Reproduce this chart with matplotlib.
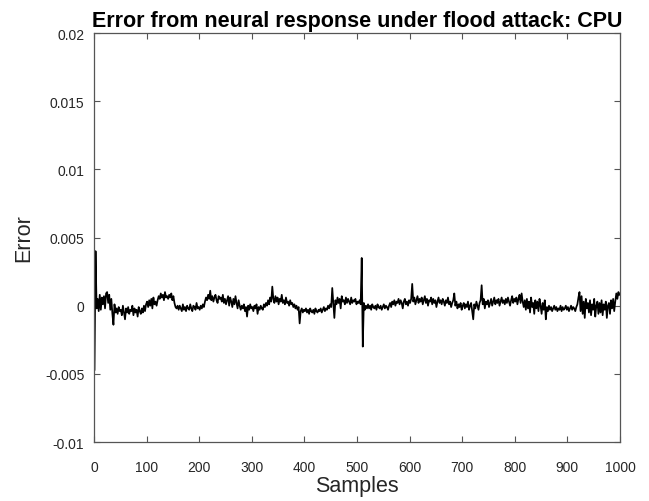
import numpy as np
import matplotlib
matplotlib.use("Agg")
import matplotlib.pyplot as plt

# error values, in units of 1e-4, every second sample (1, 3, ..., 999)
err_e4 = [
    -47, 40, -2, 5, -4, 8, -3, 6, 1, 7,
    -2, 9, 10, 2, 8, -3, 5, -6, -14, 1,
    -5, -2, -6, -1, -4, -3, -7, 0, -5, -10,
    -2, -5, -1, -6, -3, -4, 0, -7, -2, -5,
    -3, -8, -1, -4, -6, -2, -5, 0, -4, 1,
    3, -1, 4, 0, 5, -2, 6, 1, 3, 0,
    4, 7, 5, 9, 6, 8, 4, 10, 6, 7,
    5, 8, 6, 9, 4, 7, 2, -1, -2, 0,
    -3, 0, -2, -4, 1, -3, -1, -4, 0, -2,
    -3, 1, -2, -4, 0, -1, -3, 2, -2, -1,
    -3, 0, -2, 1, -1, 3, 6, 4, 8, 5,
    11, 4, 7, 3, 6, 8, 4, 2, 7, 5,
    6, 3, 8, 2, 5, 1, 4, 7, 0, 6,
    3, -1, 5, 1, 7, 2, -2, 4, 0, -3,
    0, -2, 1, -4, -1, -8, 0, -3, 1, -2,
    -1, -4, 0, -2, 1, -6, -1, -3, 0, -2,
    -3, 1, -1, 2, 0, 4, 1, 6, 3, 14,
    5, 2, 7, 3, 6, 1, 5, 3, 8, 2,
    4, 1, 6, 2, 3, 0, 4, 1, 2, -1,
    1, -2, 0, -3, -1, -13, -4, -2, -5, -3,
    -4, -2, -5, -3, -6, -2, -4, -5, -3, -6,
    -2, -4, -5, -3, -4, -2, -5, -3, -1, -4,
    -2, -3, 0, -2, 1, -1, 13, 2, -9, 4,
    1, 6, 2, 5, -2, 7, 3, 4, 1, 6,
    2, 5, 3, 1, 6, 2, 4, 3, 5, 1,
    3, 2, 4, 1, 35, -30, 2, -3, 0, -2,
    1, -2, 0, -3, 1, -1, -2, 0, -3, 1,
    -1, -2, 0, -3, -1, 1, -2, 0, -1, -3,
    0, 2, -1, 3, 1, 4, 0, 3, 2, 5,
    1, 4, 2, -2, 3, 5, 1, 3, 0, 4,
    2, 5, 16, 3, 6, 1, 4, 7, 2, 5,
    3, 6, 1, 4, 7, 2, 5, 0, 4, 3,
    6, 1, 5, 2, 4, -1, 3, 6, 2, 4,
    1, 5, 3, 0, 4, 2, 6, 1, 3, -1,
    2, 4, 9, 0, 3, -2, 1, -1, 2, -3,
    0, 2, -2, 1, -1, 3, -3, 0, 2, -4,
    -10, 1, -2, 3, 0, -3, 2, 4, 15, 1,
    5, -2, 3, 1, 4, -1, 2, 5, 0, 3,
    6, 1, 4, 2, 5, 0, 3, 6, 2, 4,
    1, 5, 2, 6, 3, 0, 4, 7, 2, 5,
    3, 6, 1, 5, 8, 2, 9, 3, -1, 4,
    -3, 5, -2, 3, -5, 6, -1, 2, -6, 4,
    -2, 3, -4, 5, 0, -6, 2, -3, 4, -10,
    -1, -4, 0, -3, -1, -4, -2, 0, -3, -1,
    -4, -2, -3, 0, -4, -1, -3, -2, 0, -3,
    -1, -4, -2, 0, -3, -1, -2, -4, -1, 1,
    6, 10, -4, 7, -6, 3, -9, 5, -2, 2,
    -5, 4, -7, 1, -3, 5, -8, 0, 3, -6,
    2, -5, 4, -7, 1, -3, 3, -9, 0, 2,
    -6, 4, -2, 5, -4, 3, 9, 5, 10, 8,
]
samples = np.arange(1, 1000, 2)
error = np.array(err_e4) * 1e-4

x_ticks = list(range(0, 1001, 100))
y_ticks = [-0.01, -0.005, 0, 0.005, 0.01, 0.015, 0.02]
y_tick_labels = ["-0.01", "-0.005", "0", "0.005", "0.01", "0.015", "0.02"]

plt.rcParams['font.family'] = ['Liberation Sans', 'DejaVu Sans']

fig = plt.figure(figsize=(6.49, 5.02), dpi=100)
ax = fig.add_axes([0.1448, 0.1175, 0.8105, 0.8147])

ax.plot(samples, error, color="black", linewidth=1.25)

ax.set_xlim(0, 1000)
ax.set_ylim(-0.01, 0.02)
ax.set_xticks(x_ticks)
ax.set_yticks(y_ticks)
ax.set_yticklabels(y_tick_labels)

# matlab look: grey box, ticks inside on every side
axis_grey = "#555555"
for side in ax.spines.values():
    side.set_color(axis_grey)
    side.set_linewidth(0.9)
ax.tick_params(direction="in", length=4, width=0.8, color=axis_grey,
               top=True, right=True, labelsize=10, labelcolor="#262626")
ax.tick_params(axis="x", pad=13)
ax.tick_params(axis="y", pad=7)

ax.set_xlabel("Samples", fontsize=15.5, color="#262626", labelpad=1)
ax.set_ylabel("Error", fontsize=15.5, color="#262626", labelpad=8)
ax.set_title("Error from neural response under flood attack: CPU",
             fontsize=15.5, fontweight="bold", pad=5)

fig.savefig("out.png", dpi=100)
